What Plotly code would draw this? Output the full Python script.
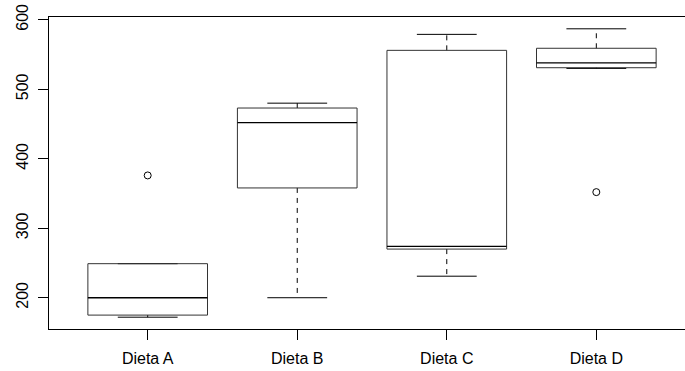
import plotly.graph_objects as go

groups = ["Dieta A", "Dieta B", "Dieta C", "Dieta D"]
lower_whisker = [172, 200, 231, 530]
q1 = [175, 358, 270, 531]
median = [200, 452, 274, 538]
q3 = [249, 473, 556, 559]
upper_whisker = [249, 480, 579, 587]
outlier_group = [0, 3]
outlier_value = [376, 352]
y_ticks = [200, 300, 400, 500, 600]

BOX_HALF = 0.4
STAPLE_HALF = 0.2
FONT = "Liberation Sans, Arial, Helvetica, sans-serif"

fig = go.Figure()

bx, by, mx, my, wx, wy, sx, sy = [], [], [], [], [], [], [], []
for i in range(len(groups)):
    c = i + 1
    bx += [c - BOX_HALF, c + BOX_HALF, c + BOX_HALF, c - BOX_HALF, c - BOX_HALF, None]
    by += [q1[i], q1[i], q3[i], q3[i], q1[i], None]
    mx += [c - BOX_HALF, c + BOX_HALF, None]
    my += [median[i], median[i], None]
    wx += [c, c, None, c, c, None]
    wy += [q3[i], upper_whisker[i], None, q1[i], lower_whisker[i], None]
    sx += [c - STAPLE_HALF, c + STAPLE_HALF, None, c - STAPLE_HALF, c + STAPLE_HALF, None]
    sy += [upper_whisker[i], upper_whisker[i], None, lower_whisker[i], lower_whisker[i], None]

line_kw = dict(mode="lines", hoverinfo="skip", showlegend=False)
fig.add_trace(go.Scatter(x=wx, y=wy, line=dict(color="black", width=1, dash="5px,5px"), **line_kw))
fig.add_trace(go.Scatter(x=sx, y=sy, line=dict(color="black", width=1), **line_kw))
fig.add_trace(go.Scatter(x=bx, y=by, line=dict(color="#333333", width=1), **line_kw))
fig.add_trace(go.Scatter(x=mx, y=my, line=dict(color="black", width=1.3), **line_kw))
fig.add_trace(go.Scatter(
    x=[g + 1 for g in outlier_group], y=outlier_value, mode="markers",
    marker=dict(symbol="circle-open", size=7, color="black", line=dict(width=1)),
    showlegend=False))

fig.update_layout(
    width=685, height=371,
    margin=dict(l=49, r=0, t=17, b=42, autoexpand=False),
    paper_bgcolor="white", plot_bgcolor="white",
    font=dict(family=FONT, size=16, color="black"),
)
fig.update_xaxes(
    range=[0.34, 4.593], tickvals=[1, 2, 3, 4], ticktext=groups,
    showgrid=False, zeroline=False, showline=True, mirror=True, automargin=False,
    linecolor="black", linewidth=1, ticks="outside", ticklen=10,
    tickcolor="black", tickwidth=1, ticklabelstandoff=5,
    tickfont=dict(family=FONT, size=16, color="black"),
)
fig.update_yaxes(
    range=[155, 604], tickvals=y_ticks,
    showgrid=False, zeroline=False, showline=True, mirror=False, automargin=False,
    linecolor="black", linewidth=1, ticks="outside", ticklen=10,
    tickcolor="black", tickwidth=1, tickangle=-90, ticklabelstandoff=4,
    tickfont=dict(family=FONT, size=16, color="black"),
)

fig.write_html(
    "out.html",
    config={"displayModeBar": False, "staticPlot": True},
    post_script="document.body.style.margin='0';document.body.style.overflow='hidden';",
)
